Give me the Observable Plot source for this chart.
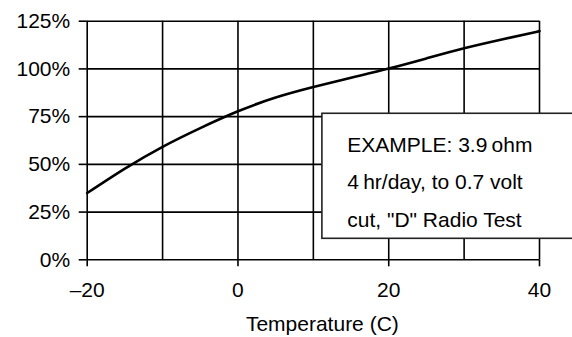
<!DOCTYPE html>
<html>
<head>
<meta charset="utf-8">
<script src="https://cdn.jsdelivr.net/npm/d3@7"></script>
<script src="https://cdn.jsdelivr.net/npm/@observablehq/plot@0.6"></script>
<style>
  html, body { margin: 0; padding: 0; background: white; overflow: hidden; }
  #chart svg { overflow: hidden; }
</style>
</head>
<body>
<div id="chart"></div>
<script>
// Temperature (C)
const temperatures = [-20, -15, -10, -5, 0, 5, 10, 15, 20, 25, 30, 35, 40];
// Relative capacity (%)
const capacity = [35, 47.8, 59.2, 69.0, 77.8, 85, 90.5, 95.4, 100.2, 105.5, 110.8, 115.4, 119.8];
const xTicks = [-20, 0, 20, 40];
const xGrid = [-20, -10, 0, 10, 20, 30, 40];
const yTicks = [0, 25, 50, 75, 100, 125];
const noteLines = ["EXAMPLE: 3.9\u2009ohm", "4\u2009hr/day, to 0.7 volt", "cut, \"D\" Radio Test"];
const xLabel = "Temperature (C)";

const data = temperatures.map((t, i) => ({t, c: capacity[i]}));
const font = "'Liberation Sans', Arial, Helvetica, sans-serif";

const chart = Plot.plot({
  width: 572,
  height: 337,
  marginLeft: 86.7,
  marginRight: 33,
  marginTop: 20.7,
  marginBottom: 77.7,
  style: {fontFamily: font, fontSize: "21px", color: "black", background: "white", overflow: "hidden"},
  x: {domain: [-20, 40]},
  y: {domain: [0, 125]},
  marks: [
    Plot.gridX(xGrid, {stroke: "black", strokeOpacity: 1, strokeWidth: 1.6}),
    Plot.gridY(yTicks, {stroke: "black", strokeOpacity: 1, strokeWidth: 1.6}),
    Plot.axisY(yTicks, {tickSize: 8, tickPadding: 9, tickFormat: d => d + "%", label: null, fontSize: 21, strokeWidth: 1.6}),
    Plot.axisX(xTicks, {tickSize: 7, tickPadding: 15, tickFormat: d => d < 0 ? "\u2013" + Math.abs(d) : String(d), label: null, fontSize: 21, strokeWidth: 1.6}),
    Plot.line(data, {x: "t", y: "c", curve: "natural", stroke: "black", strokeWidth: 2.6}),
    Plot.rect([0], {x1: 11.2, x2: 46, y1: 11, y2: 76.5, fill: "white", stroke: "#222", strokeWidth: 1.6}),
    Plot.text([noteLines.join("\n")], {x: 14.5, y: 43.3, text: d => d, textAnchor: "start", lineHeight: 1.79, fontSize: 21, fill: "black"}),
    Plot.text([xLabel], {frameAnchor: "bottom", dy: 56.5, dx: 9, lineAnchor: "top", fontSize: 21, fill: "black"})
  ]
});
document.getElementById("chart").appendChild(chart);
</script>
</body>
</html>
